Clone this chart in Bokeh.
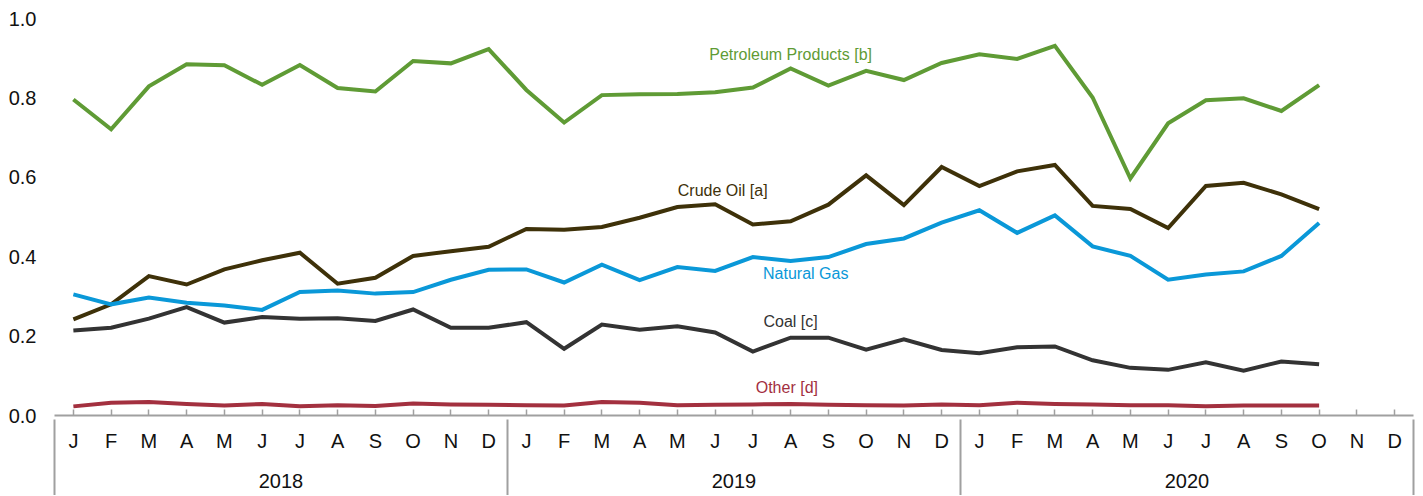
from bokeh.plotting import figure
from bokeh.models import Range1d, LinearAxis, FixedTicker
from bokeh.core.properties import value
from bokeh.embed import file_html
from bokeh.resources import INLINE

years = ["2018", "2019", "2020"]
month_letters = ["J", "F", "M", "A", "M", "J", "J", "A", "S", "O", "N", "D"]

petroleum = [0.796, 0.721, 0.829, 0.885, 0.882, 0.833, 0.883, 0.825, 0.816, 0.893, 0.887, 0.923,
             0.820, 0.738, 0.807, 0.809, 0.810, 0.814, 0.826, 0.874, 0.831, 0.868, 0.845, 0.888,
             0.910, 0.898, 0.931, 0.801, 0.597, 0.736, 0.794, 0.799, 0.767, 0.832]
crude = [0.242, 0.280, 0.351, 0.330, 0.368, 0.391, 0.410, 0.332, 0.347, 0.402, 0.414, 0.425,
         0.470, 0.468, 0.475, 0.498, 0.525, 0.532, 0.481, 0.489, 0.531, 0.605, 0.530, 0.626,
         0.578, 0.615, 0.631, 0.528, 0.520, 0.472, 0.578, 0.586, 0.557, 0.520]
natgas = [0.305, 0.280, 0.297, 0.284, 0.277, 0.266, 0.311, 0.315, 0.307, 0.311, 0.342, 0.367,
          0.368, 0.335, 0.380, 0.341, 0.374, 0.364, 0.399, 0.389, 0.399, 0.432, 0.446, 0.486,
          0.517, 0.460, 0.504, 0.426, 0.402, 0.342, 0.355, 0.363, 0.402, 0.485]
coal = [0.214, 0.221, 0.244, 0.273, 0.234, 0.248, 0.244, 0.245, 0.238, 0.267, 0.221, 0.221,
        0.235, 0.168, 0.229, 0.216, 0.225, 0.209, 0.161, 0.196, 0.196, 0.166, 0.192, 0.165,
        0.157, 0.172, 0.174, 0.139, 0.120, 0.115, 0.134, 0.113, 0.136, 0.129]
other = [0.023, 0.032, 0.034, 0.029, 0.025, 0.029, 0.023, 0.026, 0.024, 0.030, 0.028, 0.027,
         0.026, 0.025, 0.034, 0.032, 0.026, 0.027, 0.028, 0.029, 0.027, 0.026, 0.025, 0.028,
         0.026, 0.032, 0.029, 0.028, 0.026, 0.026, 0.023, 0.025, 0.025, 0.025]

series_names = ["Petroleum Products [b]", "Crude Oil [a]", "Natural Gas", "Coal [c]", "Other [d]"]
series_values = [petroleum, crude, natgas, coal, other]
series_colors = ["#5f9b35", "#3e3109", "#0a98d8", "#333333", "#a3303f"]
label_x = [19.0, 17.2, 19.4, 19.0, 18.9]
label_y = [0.910, 0.567, 0.357, 0.238, 0.071]

FONT = "Liberation Sans"
TICK_FONT_SIZE = "20px"
n_months = len(years) * len(month_letters)

p = figure(frame_width=1359, frame_height=397, output_backend="svg", toolbar_location=None,
           x_range=Range1d(-0.5, n_months - 0.5), y_range=Range1d(0, 1.0),
           min_border_left=54, min_border_right=2, min_border_top=18, min_border_bottom=80,
           x_axis_location=None)
p.outline_line_color = None
p.xgrid.visible = False
p.ygrid.visible = False
p.background_fill_color = "white"

# y axis
yax = p.yaxis[0]
yax.ticker = FixedTicker(ticks=[0.0, 0.2, 0.4, 0.6, 0.8, 1.0])
yax.major_label_overrides = {t: f"{t:.1f}" for t in [0.0, 0.2, 0.4, 0.6, 0.8, 1.0]}
yax.axis_line_color = None
yax.major_tick_line_color = None
yax.minor_tick_line_color = None
yax.major_tick_out = 0
yax.major_tick_in = 0
yax.major_label_standoff = 18
yax.major_label_text_font = FONT
yax.major_label_text_font_size = TICK_FONT_SIZE
yax.major_label_text_color = "#111111"

# month axis
month_ticks = list(range(n_months))
month_axis = LinearAxis(ticker=FixedTicker(ticks=month_ticks))
month_axis.major_label_overrides = {i: month_letters[i % 12] for i in month_ticks}
month_axis.axis_line_color = "#a0a0a0"
month_axis.axis_line_width = 2
month_axis.major_tick_line_color = "#a0a0a0"
month_axis.major_tick_line_width = 1.5
month_axis.major_tick_in = 6
month_axis.major_tick_out = 0
month_axis.minor_tick_line_color = None
month_axis.major_label_standoff = 14
month_axis.major_label_text_font = FONT
month_axis.major_label_text_font_size = TICK_FONT_SIZE
month_axis.major_label_text_color = "#111111"
p.add_layout(month_axis, "below")

# year axis with separators
year_centers = [12 * k + 5.5 for k in range(len(years))]
bounds = [12 * k - 0.5 for k in range(len(years) + 1)]
year_axis = LinearAxis(ticker=FixedTicker(ticks=year_centers, minor_ticks=bounds))
year_axis.major_label_overrides = {c: y for c, y in zip(year_centers, years)}
year_axis.axis_line_color = None
year_axis.major_tick_line_color = None
year_axis.major_tick_in = 0
year_axis.major_tick_out = 0
year_axis.minor_tick_line_color = "#a0a0a0"
year_axis.minor_tick_line_width = 2
year_axis.minor_tick_in = 35
year_axis.minor_tick_out = 44
year_axis.major_label_standoff = -25
year_axis.major_label_text_font = FONT
year_axis.major_label_text_font_size = TICK_FONT_SIZE
year_axis.major_label_text_color = "#111111"
p.add_layout(year_axis, "below")

for name, vals, color, lx, ly in zip(series_names, series_values, series_colors, label_x, label_y):
    xs = list(range(len(vals)))
    p.line(xs, vals, line_color=color, line_width=4, line_join="miter")
    p.text(x=[lx], y=[ly], text=[name], text_color=color, text_font=value(FONT),
           text_font_size="16px", text_align="center", text_baseline="middle")

open("out.html", "w").write(file_html(p, INLINE))
